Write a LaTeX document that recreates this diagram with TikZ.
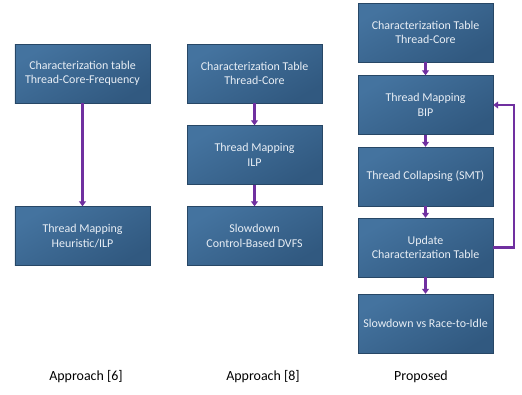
\documentclass[tikz,border=0pt]{standalone}
\usepackage{fontspec}
\setmainfont{Carlito}
\usetikzlibrary{arrows.meta}
\definecolor{boxtop}{HTML}{44739F}
\definecolor{boxbot}{HTML}{315980}
\definecolor{arrowc}{HTML}{7030A0}
\definecolor{boxtext}{HTML}{E8EEF5}
\begin{document}
\begin{tikzpicture}[x=1bp,y=-1bp,
  blk/.style={draw=boxbot!80!black, line width=0.4bp, top color=boxtop, bottom color=boxbot, shading angle=30,
    minimum width=135bp, minimum height=59bp, inner sep=0pt, text=boxtext, align=center,
    font=\fontsize{12}{14.5}\selectfont},
  conn/.style={draw=arrowc, line width=2.2bp, -{Triangle[width=7bp,length=5bp]}},
  lab/.style={font=\fontsize{14}{16}\selectfont, text=black}]
\useasboundingbox (0,0) rectangle (522,394);
% left column
\node[blk] (a1) at (82.5,73.5) {Characterization table\\Thread-Core-Frequency};
\node[blk] (a2) at (82.5,236) {Thread Mapping\\Heuristic/ILP};
\draw[conn] (a1) -- (a2);
% middle column
\node[blk] (b1) at (254.5,73.5) {Characterization Table\\Thread-Core};
\node[blk] (b2) at (254.5,155) {Thread Mapping\\ILP};
\node[blk] (b3) at (254.5,236) {Slowdown\\Control-Based DVFS};
\draw[conn] (b1) -- (b2);
\draw[conn] (b2) -- (b3);
% right column
\node[blk] (c1) at (425.5,32.5) {Characterization Table\\Thread-Core};
\node[blk] (c2) at (425.5,105) {Thread Mapping\\BIP};
\node[blk] (c3) at (425.5,176.5) {Thread Collapsing (SMT)};
\node[blk] (c4) at (425.5,247.5) {Update\\Characterization Table};
\node[blk] (c5) at (425.5,323.5) {Slowdown vs Race-to-Idle};
\draw[conn] (c1) -- (c2);
\draw[conn] (c2) -- (c3);
\draw[conn] (c3) -- (c4);
\draw[conn] (c4) -- (c5);
\coordinate (fb) at (514,0);
\draw[conn] (c4.east) -- (c4.east -| fb) -- (c2.east -| fb) -- (c2.east);
% labels
\node[lab] (l1) at (86,377) {Approach [6]};
\node[lab] (l2) at (263,377) {Approach [8]};
\node[lab] (l3) at (421,377) {Proposed};
\end{tikzpicture}
\end{document}
